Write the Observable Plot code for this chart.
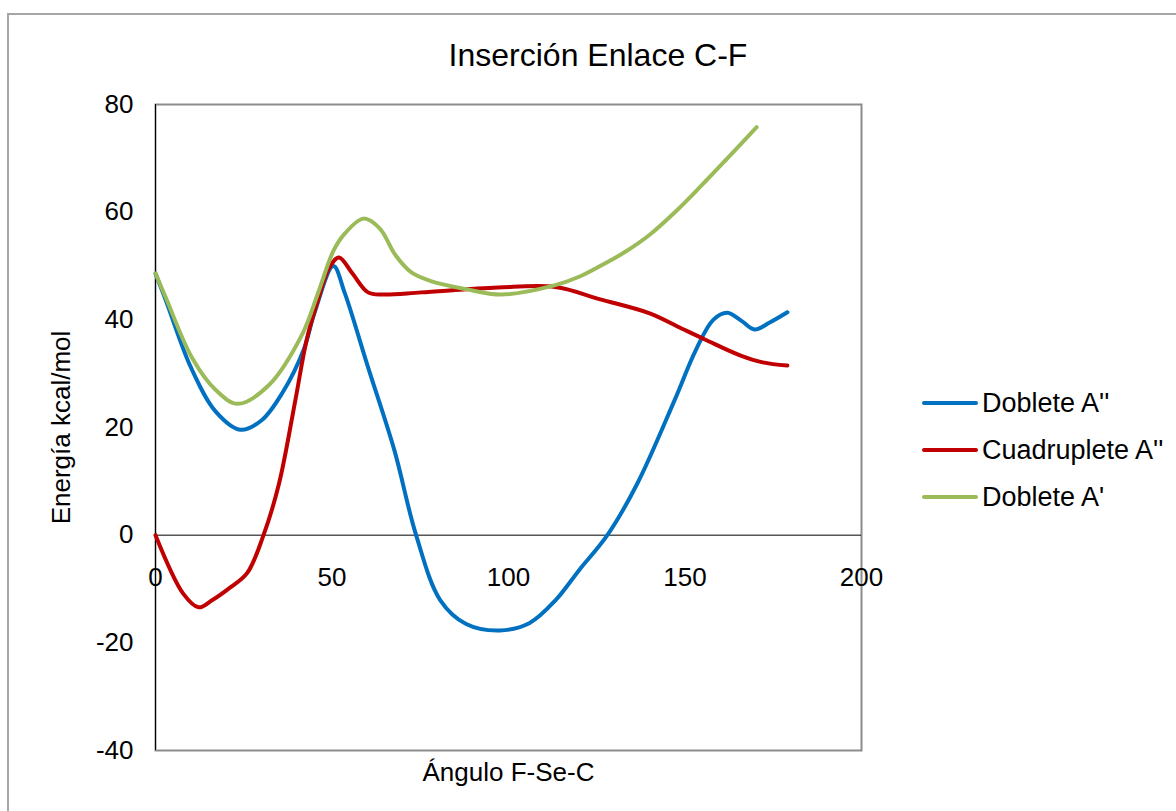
<!DOCTYPE html>
<html>
<head>
<meta charset="utf-8">
<script src="https://cdn.jsdelivr.net/npm/d3@7"></script>
<script src="https://cdn.jsdelivr.net/npm/@observablehq/plot@0.6"></script>
<style>
  html, body { margin: 0; padding: 0; background: #fff; overflow: hidden; }
  #wrap { position: relative; width: 1176px; height: 811px; overflow: hidden; font-family: "Liberation Sans", Arial, sans-serif; color: #000; }
  #border { position: absolute; left: 7px; top: 13px; width: 1220px; height: 900px; border: 2px solid #a6a6a6; box-sizing: border-box; }
  #title { position: absolute; left: 0; width: 1196px; top: 39px; text-align: center; font-size: 32px; line-height: 32px; white-space: nowrap; }
  #chart { position: absolute; left: 0; top: 0; }
  .row { position: absolute; left: 922px; height: 30px; display: flex; align-items: center; font-size: 27px; white-space: nowrap; }
  .sw { display: inline-block; width: 56px; height: 4px; border-radius: 2px; margin-right: 4px; }
</style>
</head>
<body>
<div id="wrap">
  <div id="border"></div>
  <div id="chart"></div>
  <div id="title">Inserción Enlace C-F</div>
  <div id="legend"></div>
</div>
<script>
// ---- Data ----
const seriesNames = ["Doblete A''", "Cuadruplete A''", "Doblete A'"];
const seriesColors = ["#0070C0", "#C00000", "#9BBB59"];

const dobleteAppAngles = [0, 3, 10, 17, 24, 30, 36, 42, 45, 50.4, 53.6, 60.2, 67.7, 73.7, 80.7, 88, 97.6, 106, 113.3, 120, 128, 136.5, 147, 153, 158, 162, 166, 169.7, 174, 179];
const dobleteAppValues = [48.6, 43.5, 31.2, 23, 19.6, 21.3, 26.5, 34.5, 41.2, 50, 45, 31.2, 15.7, 0.3, -12.1, -16.5, -17.7, -16.3, -12.1, -6.5, 0, 9.6, 25, 34.3, 40, 41.3, 39.8, 38.2, 39.5, 41.4];

const cuadrupleteAngles = [0, 7.9, 12.2, 16, 21.2, 26, 30.6, 35, 39.6, 42.8, 46, 49.3, 52, 55.8, 60.2, 64.5, 75.3, 97, 113.3, 126, 140, 149, 155.8, 165.6, 172, 179];
const cuadrupleteValues = [0, -10.9, -13.4, -12.1, -9.7, -7, 0, 9.6, 25, 36.2, 43.6, 49.8, 51.6, 48.6, 45.1, 44.7, 45.1, 46, 46.1, 43.8, 41.2, 38.4, 36.3, 33.4, 32.1, 31.5];

const dobleteApAngles = [0, 3, 10.3, 17, 23.3, 32, 41.7, 46, 50.4, 53.6, 58.9, 63.5, 68, 72.5, 78, 88, 98, 113, 120, 126, 133, 140, 147, 154, 162, 170.3];
const dobleteApValues = [48.6, 44, 33, 27, 24.4, 27.8, 37.5, 44.9, 52.8, 56, 58.8, 57, 52, 48.8, 47.2, 45.7, 44.7, 46.4, 48, 50, 52.6, 55.8, 59.9, 64.5, 70, 75.8];

const xTicks = [0, 50, 100, 150, 200];
const yTicks = [-40, -20, 0, 20, 40, 60, 80];

const title = "Inserción Enlace C-F";
const xLabel = "Ángulo F-Se-C";
const yLabel = "Energía kcal/mol";

// ---- Build tidy table ----
const seriesData = [
  [dobleteAppAngles, dobleteAppValues],
  [cuadrupleteAngles, cuadrupleteValues],
  [dobleteApAngles, dobleteApValues]
];
const rows = [];
seriesData.forEach(([xs, ys], i) => {
  xs.forEach((x, j) => rows.push({series: seriesNames[i], angle: x, energy: ys[j]}));
});

const font = "Liberation Sans, Arial, sans-serif";

const chart = Plot.plot({
  width: 1176,
  height: 811,
  marginLeft: 155,
  marginRight: 315,
  marginTop: 104,
  marginBottom: 61,
  style: {fontFamily: font, background: "transparent", color: "#000", overflow: "visible"},
  x: {domain: [0, 200]},
  y: {domain: [-40, 80]},
  color: {domain: seriesNames, range: seriesColors},
  marks: [
    Plot.frame({stroke: "#8c8c8c", strokeWidth: 2}),
    Plot.ruleX([0], {stroke: "#000", strokeWidth: 1}),
    Plot.ruleY([0], {stroke: "#000", strokeWidth: 1}),
    Plot.axisY(yTicks, {
      tickSize: 0, tickPadding: 22, fontSize: 26, fill: "#000",
      tickFormat: d => String(d),
      label: yLabel, labelAnchor: "center", labelOffset: 104, labelArrow: "none"
    }),
    Plot.axisX({
      ticks: [], tickSize: 0, fontSize: 26, fill: "#000",
      label: xLabel, labelAnchor: "center", labelOffset: 30, labelArrow: "none"
    }),
    Plot.text(xTicks, {x: d => d, y: 0, dy: 43, text: d => String(d), fontSize: 26, fill: "#000"}),
    Plot.line(rows, {
      x: "angle", y: "energy", z: "series", stroke: "series",
      strokeWidth: 4, curve: "catmull-rom", strokeLinecap: "round", strokeLinejoin: "round"
    })
  ]
});
document.getElementById("chart").appendChild(chart);

// ---- Legend (HTML, from the same arrays) ----
const legend = document.getElementById("legend");
const rowCenters = [403, 450, 497];
seriesNames.forEach((name, i) => {
  const r = document.createElement("div");
  r.className = "row";
  r.style.top = (rowCenters[i] - 15) + "px";
  const sw = document.createElement("span");
  sw.className = "sw";
  sw.style.background = seriesColors[i];
  const t = document.createElement("span");
  t.textContent = name;
  r.appendChild(sw);
  r.appendChild(t);
  legend.appendChild(r);
});
</script>
</body>
</html>
